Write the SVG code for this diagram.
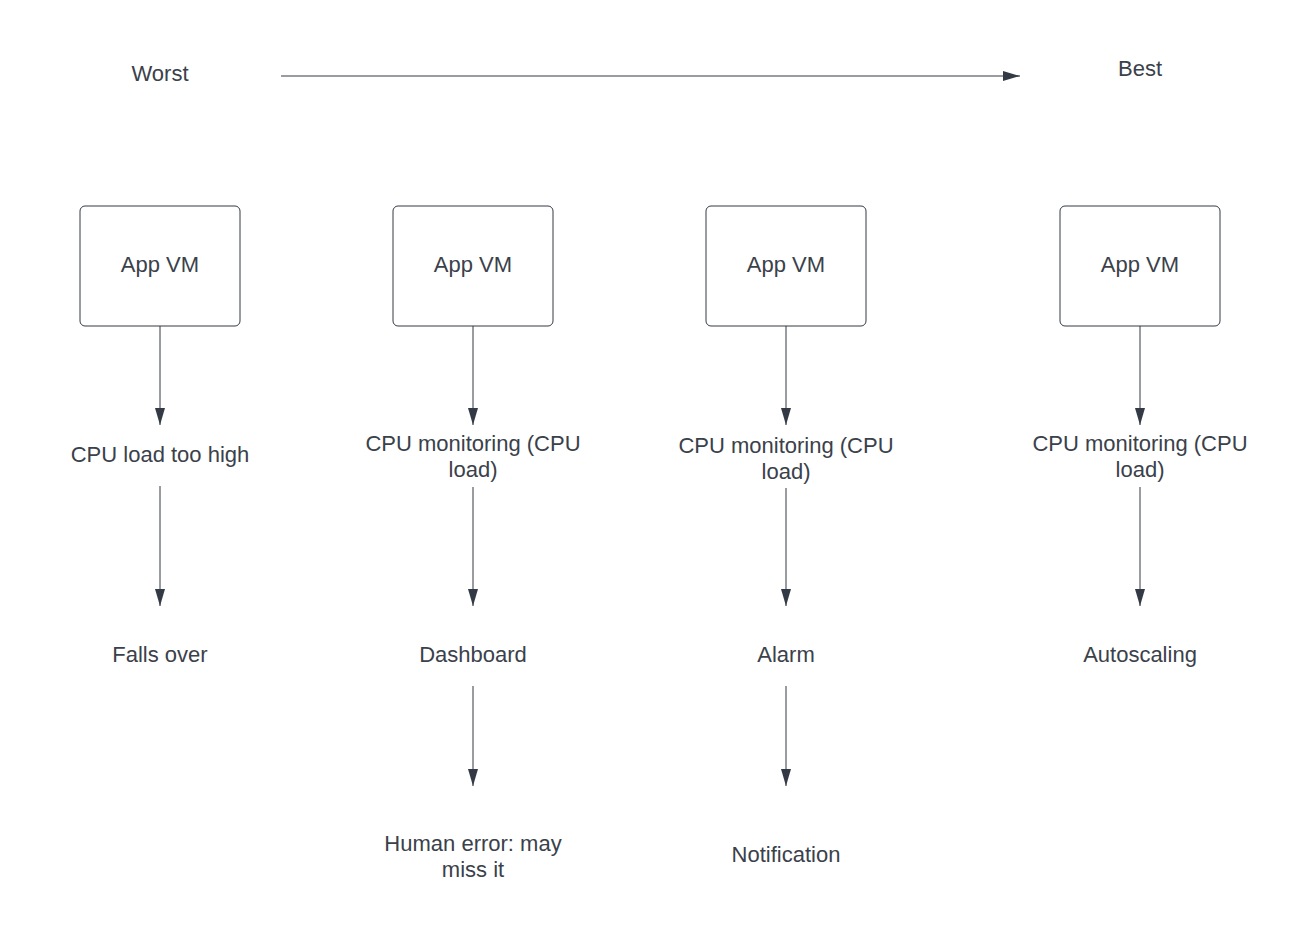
<svg xmlns="http://www.w3.org/2000/svg" width="1300" height="928" viewBox="0 0 1300 928">
<style>
.t{font-family:"Liberation Sans",Arial,sans-serif;font-size:22px;fill:#3a414a;text-anchor:middle}
.b{fill:#ffffff;stroke:#333a45;stroke-width:1}
.c{stroke:#333a45;stroke-width:1;fill:none;marker-end:url(#ah)}
</style>
<defs>
<marker id="ah" markerUnits="userSpaceOnUse" markerWidth="18" markerHeight="11" refX="17" refY="5" orient="auto">
<path d="M0,0 L17,5 L0,10 z" fill="#333a45"/>
</marker>
</defs>
<rect width="1300" height="928" fill="#ffffff"/>
<g id="connectors">
<line class="c" x1="281" y1="76" x2="1020" y2="76"/>
<line class="c" x1="160" y1="326" x2="160" y2="425"/>
<line class="c" x1="160" y1="486" x2="160" y2="606"/>
<line class="c" x1="473" y1="326" x2="473" y2="425"/>
<line class="c" x1="473" y1="487" x2="473" y2="606"/>
<line class="c" x1="473" y1="686" x2="473" y2="786"/>
<line class="c" x1="786" y1="326" x2="786" y2="425"/>
<line class="c" x1="786" y1="488" x2="786" y2="606"/>
<line class="c" x1="786" y1="686" x2="786" y2="786"/>
<line class="c" x1="1140" y1="326" x2="1140" y2="425"/>
<line class="c" x1="1140" y1="487" x2="1140" y2="606"/>
</g>
<g id="worst"><text class="t" x="160" y="81">Worst</text></g>
<g id="best"><text class="t" x="1140" y="76">Best</text></g>
<g id="vm1"><rect class="b" x="80" y="206" width="160" height="120" rx="5"/><text class="t" x="160" y="272">App VM</text></g>
<g id="vm2"><rect class="b" x="393" y="206" width="160" height="120" rx="5"/><text class="t" x="473" y="272">App VM</text></g>
<g id="vm3"><rect class="b" x="706" y="206" width="160" height="120" rx="5"/><text class="t" x="786" y="272">App VM</text></g>
<g id="vm4"><rect class="b" x="1060" y="206" width="160" height="120" rx="5"/><text class="t" x="1140" y="272">App VM</text></g>
<g id="cpu1"><text class="t" x="160" y="462">CPU load too high</text></g>
<g id="cpu2"><text class="t" x="473" y="451">CPU monitoring (CPU</text><text class="t" x="473" y="477">load)</text></g>
<g id="cpu3"><text class="t" x="786" y="453">CPU monitoring (CPU</text><text class="t" x="786" y="479">load)</text></g>
<g id="cpu4"><text class="t" x="1140" y="451">CPU monitoring (CPU</text><text class="t" x="1140" y="477">load)</text></g>
<g id="falls"><text class="t" x="160" y="662">Falls over</text></g>
<g id="dashboard"><text class="t" x="473" y="662">Dashboard</text></g>
<g id="alarm"><text class="t" x="786" y="662">Alarm</text></g>
<g id="autoscaling"><text class="t" x="1140" y="662">Autoscaling</text></g>
<g id="human"><text class="t" x="473" y="851">Human error: may</text><text class="t" x="473" y="877">miss it</text></g>
<g id="notification"><text class="t" x="786" y="862">Notification</text></g>
</svg>
